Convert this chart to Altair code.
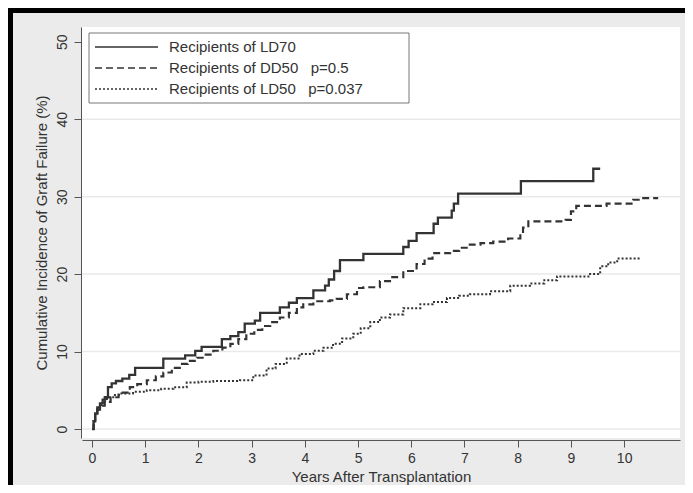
import altair as alt
import pandas as pd

series_names = [
    "Recipients of LD70",
    "Recipients of DD50\u00a0\u00a0\u00a0p=0.5",
    "Recipients of LD50\u00a0\u00a0\u00a0p=0.037",
]
series_dash = [[1, 0], [7, 4], [2, 2]]
series_width = [2.3, 2.0, 1.9]

ld70_t = [0, 0.03, 0.06, 0.10, 0.15, 0.20, 0.24, 0.30, 0.37, 0.45, 0.57, 0.70, 0.81,
          1.34, 1.75, 1.94, 2.06, 2.44, 2.60, 2.75, 2.87, 3.06, 3.16, 3.53, 3.70, 3.85,
          4.16, 4.38, 4.45, 4.55, 4.66, 5.10, 5.85, 5.95, 6.10, 6.42, 6.50, 6.76, 6.80,
          6.88, 8.06, 9.42, 9.55]
ld70_v = [0, 1.0, 2.0, 2.8, 3.3, 3.8, 4.1, 5.4, 5.9, 6.2, 6.5, 7.0, 7.9,
          9.1, 9.5, 10.1, 10.6, 11.6, 12.0, 12.5, 13.6, 14.0, 15.0, 15.7, 16.3, 16.9,
          17.9, 18.5, 19.3, 20.4, 21.8, 22.6, 23.5, 24.3, 25.3, 26.5, 27.3, 28.2, 29.1,
          30.4, 32.0, 33.6, 33.6]

dd50_t = [0, 0.03, 0.06, 0.10, 0.15, 0.24, 0.35, 0.50, 0.71, 0.85, 1.03, 1.20, 1.34,
          1.50, 1.65, 1.80, 1.97, 2.10, 2.28, 2.45, 2.60, 2.75, 2.90, 3.05, 3.20, 3.35,
          3.53, 3.70, 3.85, 3.97, 4.16, 4.47, 4.60, 4.79, 4.98, 5.10, 5.41, 5.60, 5.85,
          6.10, 6.25, 6.40, 6.73, 6.90, 7.10, 7.30, 7.54, 7.82, 8.05, 8.10, 8.20, 8.90,
          9.00, 9.10, 9.67, 10.17, 10.30, 10.64]
dd50_v = [0, 1.0, 1.8, 2.5, 3.0, 3.5, 4.1, 4.7, 5.4, 5.8, 6.3, 6.8, 7.3,
          7.9, 8.4, 8.8, 9.2, 9.6, 10.1, 10.5, 11.0, 11.6, 12.3, 12.8, 13.3, 13.8,
          14.4, 15.0, 15.7, 16.1, 16.5, 16.6, 16.8, 17.4, 18.2, 18.3, 19.1, 19.6, 20.4,
          21.3, 22.0, 22.7, 23.0, 23.4, 23.8, 24.0, 24.2, 24.6, 25.0, 26.0, 26.8, 27.0,
          28.1, 28.8, 29.1, 29.6, 29.8, 29.8]

ld50_t = [0, 0.03, 0.06, 0.10, 0.15, 0.20, 0.28, 0.40, 0.53, 0.77, 1.03, 1.30, 1.53,
          1.78, 2.00, 2.28, 2.78, 3.03, 3.28, 3.45, 3.66, 3.90, 4.16, 4.35, 4.53, 4.70,
          4.91, 5.05, 5.23, 5.41, 5.60, 5.85, 6.17, 6.40, 6.67, 6.90, 7.10, 7.48, 7.86,
          8.23, 8.50, 8.74, 9.36, 9.55, 9.70, 9.87, 10.30]
ld50_v = [0, 1.0, 1.8, 2.5, 3.1, 3.6, 4.1, 4.4, 4.6, 4.8, 5.0, 5.2, 5.4,
          6.0, 6.1, 6.2, 6.3, 6.9, 7.8, 8.4, 9.1, 9.7, 10.1, 10.5, 11.0, 11.7,
          12.3, 13.0, 13.8, 14.4, 14.8, 15.6, 16.1, 16.4, 16.9, 17.2, 17.4, 17.8, 18.5,
          18.8, 19.2, 19.7, 20.0, 21.0, 21.5, 22.0, 22.1]

x_ticks = list(range(0, 11))
y_ticks = [0, 10, 20, 30, 40, 50]
grid_values = [0, 10, 20, 30, 40]

rows = []
for name, ts, vs in zip(series_names, [ld70_t, dd50_t, ld50_t], [ld70_v, dd50_v, ld50_v]):
    for t, v in zip(ts, vs):
        rows.append({"series": name, "t": t, "v": v})
df = pd.DataFrame(rows)

W, H = 598, 411
PL, PT, PR, PB = 74, 19, 5, 47
FONT = "Liberation Sans"
INK = "#333333"
AXC = "#555555"

x_scale = alt.Scale(domain=[-0.188, 11.05], nice=False, zero=False)
y_scale = alt.Scale(domain=[-1.16, 51.9], nice=False, zero=False)

x_axis = alt.Axis(values=x_ticks, title="Years After Transplantation",
                  grid=False, offset=2, tickSize=7, labelPadding=4,
                  titlePadding=4, labelFontSize=14, titleFontSize=15,
                  labelFont=FONT, titleFont=FONT, labelColor=INK, titleColor=INK,
                  titleFontWeight="normal", domainColor=AXC, tickColor=AXC)
y_axis = alt.Axis(values=y_ticks, title="Cumulative Incidence of Graft Failure (%)",
                  grid=False, offset=1, tickSize=7, labelPadding=5,
                  labelAngle=270, labelAlign="center", labelBaseline="bottom",
                  titlePadding=6, labelFontSize=14, titleFontSize=15,
                  labelFont=FONT, titleFont=FONT, labelColor=INK, titleColor=INK,
                  titleFontWeight="normal", domainColor=AXC, tickColor=AXC)

grid = alt.Chart(pd.DataFrame({"g": grid_values})).mark_rule(
    color="#e9e9e9", strokeWidth=1.5
).encode(y=alt.Y("g:Q", scale=y_scale, axis=y_axis))

lines = alt.Chart(df).mark_line(interpolate="step-after", color=INK).encode(
    x=alt.X("t:Q", scale=x_scale, axis=x_axis),
    y=alt.Y("v:Q", scale=y_scale, axis=y_axis),
    strokeDash=alt.StrokeDash(
        "series:N", scale=alt.Scale(domain=series_names, range=series_dash), legend=None
    ),
    strokeWidth=alt.StrokeWidth(
        "series:N", scale=alt.Scale(domain=series_names, range=series_width), legend=None
    ),
)

# legend box drawn manually (plot-area pixel coordinates)
LX0, LY0, LX1, LY1 = 7, 6, 327, 76
row_y = [20, 41, 62]
one = pd.DataFrame({"k": [0]})
legend_layers = [
    alt.Chart(one).mark_rect(fill="white", stroke="#777777", strokeWidth=1).encode(
        x=alt.value(LX0), x2=alt.value(LX1), y=alt.value(LY0), y2=alt.value(LY1)
    )
]
for name, dash, ry in zip(series_names, series_dash, row_y):
    legend_layers.append(
        alt.Chart(one).mark_rule(color=INK, strokeWidth=1.7, strokeDash=dash).encode(
            x=alt.value(13), x2=alt.value(76), y=alt.value(ry)
        )
    )
    legend_layers.append(
        alt.Chart(one).mark_text(align="left", baseline="middle", font=FONT,
                                 fontSize=15, color=INK).encode(
            x=alt.value(87), y=alt.value(ry), text=alt.value(name)
        )
    )

border_top = alt.Chart(one).mark_rect(color="black").encode(
    x=alt.value(-PL), x2=alt.value(W + PR), y=alt.value(-PT), y2=alt.value(-PT + 5)
)
border_left = alt.Chart(one).mark_rect(color="black").encode(
    x=alt.value(-PL), x2=alt.value(-PL + 5), y=alt.value(-PT), y2=alt.value(H + PB)
)

chart = alt.layer(grid, lines, *legend_layers, border_top, border_left).properties(
    width=W, height=H,
    padding={"left": PL, "top": PT, "right": PR, "bottom": PB},
    autosize=alt.AutoSizeParams(type="none"),
    background="#ebebeb",
).configure_view(fill="white", stroke=None)

chart.save("out.html", embed_options={"renderer": "svg", "actions": False})
